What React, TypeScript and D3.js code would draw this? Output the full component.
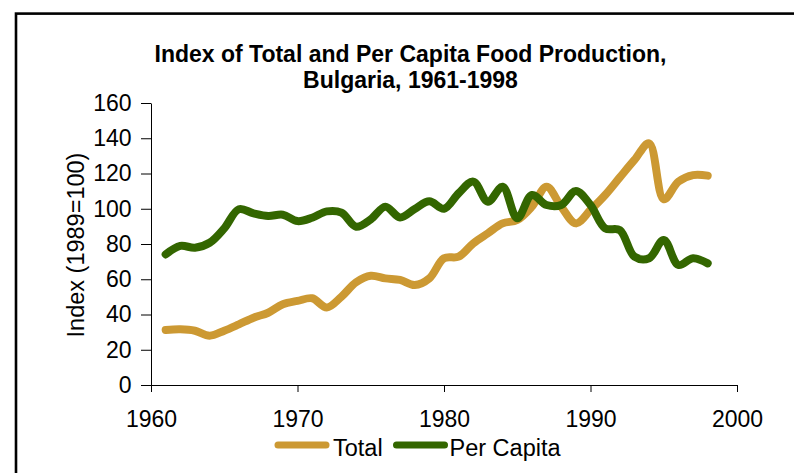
import React, { useEffect, useRef } from "react";
import * as d3 from "d3";

const years = d3.range(1961, 1999);

// index values, 1961..1998
const totalValues = [
  31.2, 31.6, 30.8, 28.0, 30.8, 34.4, 38.2, 41.0, 45.8, 47.7,
  49.2, 44.0, 50.1, 58.3, 62.0, 60.5, 59.6, 56.7, 60.5, 71.9,
  72.8, 80.4, 86.1, 91.7, 93.6, 101.2, 112.5, 101.2, 91.7, 99.3,
  107.8, 117.8, 127.7, 137.1, 105.4, 115.4, 119.1, 118.8,
];

const perCapitaValues = [
  74.1, 78.9, 77.9, 80.7, 88.9, 99.7, 97.4, 95.9, 96.6, 93.0,
  94.9, 98.5, 97.8, 89.8, 94.0, 101.2, 95.1, 99.9, 104.2, 100.0,
  108.8, 115.4, 104.0, 112.5, 94.6, 107.8, 102.1, 102.1, 110.1, 102.1,
  88.9, 87.9, 72.8, 71.9, 82.3, 68.1, 71.9, 69.0,
];

const xTicks = [1960, 1970, 1980, 1990, 2000];
const yTicks = [0, 20, 40, 60, 80, 100, 120, 140, 160];

const seriesNames = ["Total", "Per Capita"];
const seriesColors = ["#CC9933", "#336600"];

const titleLines = [
  "Index of Total and Per Capita Food Production,",
  "Bulgaria, 1961-1998",
];
const yLabel = "Index (1989=100)";

const font = "'Liberation Sans', Arial, sans-serif";

const App: React.FC = () => {
  const svgRef = useRef<SVGSVGElement>(null);

  useEffect(() => {
    if (!svgRef.current) return;
    const svg = d3.select(svgRef.current);
    svg.selectAll("*").remove();

    const width = 794;
    const height = 473;
    const margin = { top: 103, right: 57, bottom: 88, left: 151 };
    const innerWidth = width - margin.left - margin.right;
    const innerHeight = height - margin.top - margin.bottom;

    svg
      .append("rect")
      .attr("width", width)
      .attr("height", height)
      .attr("fill", "#fff");

    // outer frame (runs off the right and bottom edges)
    svg
      .append("rect")
      .attr("x", 16)
      .attr("y", 13.6)
      .attr("width", 900)
      .attr("height", 600)
      .attr("fill", "none")
      .attr("stroke", "#000")
      .attr("stroke-width", 2.6);

    const xScale = d3.scaleLinear().domain([1960, 2000]).range([0, innerWidth]);
    const yScale = d3.scaleLinear().domain([0, 160]).range([innerHeight, 0]);

    const g = svg
      .append("g")
      .attr("transform", `translate(${margin.left},${margin.top})`);

    // title
    const title = svg
      .append("text")
      .attr("text-anchor", "middle")
      .attr("font-family", font)
      .attr("font-weight", "bold")
      .attr("font-size", 23)
      .attr("fill", "#000");
    title.append("tspan").attr("x", 410.5).attr("y", 61.7).text(titleLines[0]);
    title.append("tspan").attr("x", 410.5).attr("y", 88.3).text(titleLines[1]);

    // axes
    const xAxis = g
      .append("g")
      .attr("transform", `translate(0,${innerHeight})`)
      .call(
        d3
          .axisBottom(xScale)
          .tickValues(xTicks)
          .tickFormat(d3.format("d"))
          .tickSizeInner(7)
          .tickSizeOuter(0)
          .tickPadding(18.5)
      );

    const yAxis = g.append("g").call(
      d3
        .axisLeft(yScale)
        .tickValues(yTicks)
        .tickSizeInner(10)
        .tickSizeOuter(0)
        .tickPadding(9.5)
    );

    [xAxis, yAxis].forEach((ax) => {
      ax.select(".domain").attr("stroke", "#000");
      ax.selectAll(".tick line").attr("stroke", "#000");
      ax.selectAll(".tick text")
        .attr("font-family", font)
        .attr("font-size", 23)
        .attr("fill", "#000");
    });

    // y axis label
    svg
      .append("text")
      .attr("transform", `translate(83.5,245) rotate(-90)`)
      .attr("text-anchor", "middle")
      .attr("font-family", font)
      .attr("font-size", 23.5)
      .attr("fill", "#000")
      .text(yLabel);

    // series lines
    const line = d3
      .line<number>()
      .x((_, i) => xScale(years[i]))
      .y((d) => yScale(d))
      .curve(d3.curveCatmullRom);

    [totalValues, perCapitaValues].forEach((vals, i) => {
      g.append("path")
        .datum(vals)
        .attr("fill", "none")
        .attr("stroke", seriesColors[i])
        .attr("stroke-width", 8)
        .attr("stroke-linecap", "round")
        .attr("stroke-linejoin", "round")
        .attr("d", line);
    });

    // legend
    const legendItems = [
      { x: 275, textX: 333 },
      { x: 393.5, textX: 449.5 },
    ];
    legendItems.forEach((item, i) => {
      svg
        .append("line")
        .attr("x1", item.x + 3)
        .attr("x2", item.x + 51)
        .attr("y1", 445)
        .attr("y2", 445)
        .attr("stroke", seriesColors[i])
        .attr("stroke-width", 7)
        .attr("stroke-linecap", "round");
      svg
        .append("text")
        .attr("x", item.textX)
        .attr("y", 455.7)
        .attr("font-family", font)
        .attr("font-size", 23.5)
        .attr("fill", "#000")
        .text(seriesNames[i]);
    });
  }, []);

  return (
    <svg
      ref={svgRef}
      width={794}
      height={473}
      style={{ position: "absolute", left: 0, top: 0, display: "block" }}
    />
  );
};

export default App;
